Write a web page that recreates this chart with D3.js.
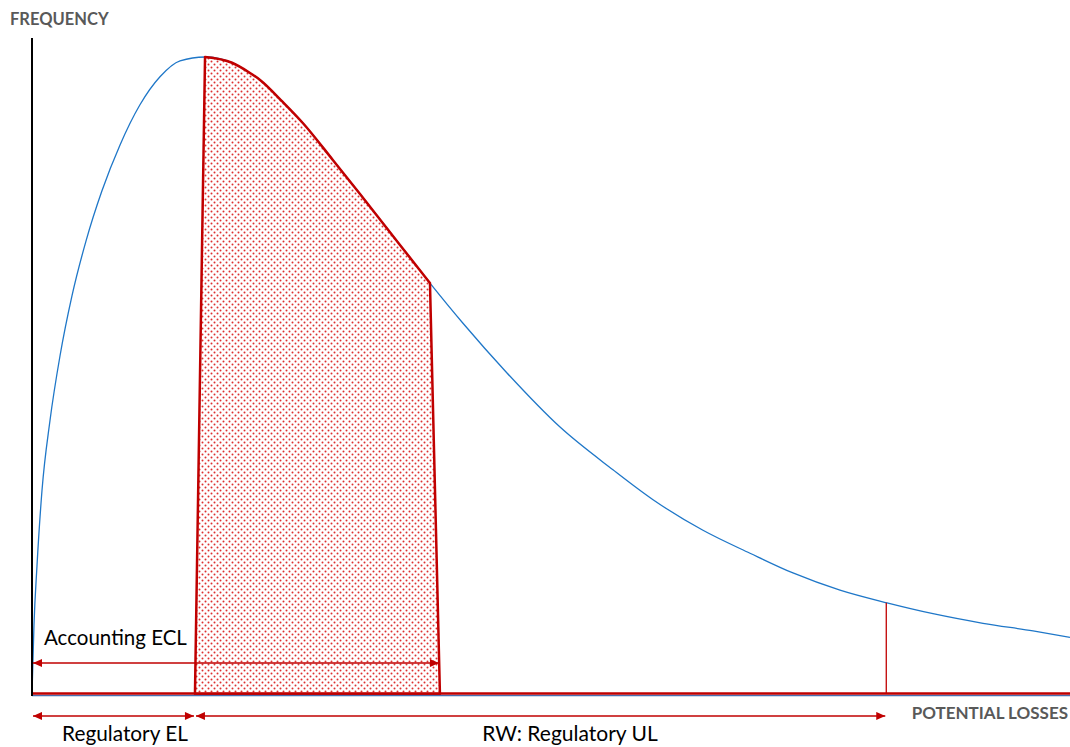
<!DOCTYPE html>
<html lang="en">
<head>
<meta charset="utf-8" />
<title></title>
<script src="https://cdn.jsdelivr.net/npm/d3@7/dist/d3.min.js"></script>
<style>
  body { margin: 0; background: #fff; }
  svg { display: block; }
</style>
</head>
<body>
<script>
// loss distribution (arbitrary units: loss 0-100, frequency 0-100)
var loss = [0, 0.19, 0.48, 0.96, 1.73, 2.70, 3.85, 5.20, 6.74, 8.48, 10.40, 12.33, 14.26, 16.67,
            19.27, 21.0, 21.97, 24.18, 26.11, 29.0, 31.6, 35.45, 38.34,
            41.52, 45.76, 50.87, 55.97, 59.83, 64.64, 69.17, 73.31, 77.84, 82.37, 86.8, 91.62, 96.44, 100];
var freq = [0, 10.8, 20.1, 31.9, 42.9, 53.1, 62.5, 71.1, 79.0, 86.2, 92.5, 96.9, 99.4, 100,
            99.1, 97.5, 96.4, 92.9, 89.6, 83.8, 78.5, 70.5, 64.5,
            58.2, 50.4, 41.9, 35.2, 30.5, 25.7, 22.1, 19.0, 16.3, 14.3, 12.6, 11.1, 9.9, 8.9];

var elLoss = 15.7;      // regulatory EL (bottom of shaded band)
var shadeStart = 16.67; // where shading meets the curve
var shadeEnd = 38.34;
var eclLoss = 39.3;     // accounting ECL
var ulLoss = 82.3;      // regulatory UL cut-off
var eclArrowFreq = 4.87;

var W = 1070, H = 747;
var x = d3.scaleLinear().domain([0, 100]).range([32, 1070]);
var y = d3.scaleLinear().domain([0, 100]).range([694, 57]);

var red = "#c00000", blue = "#1f77c8", grey = "#595959";
var font = "Lato";

var svg = d3.select("body").append("svg").attr("width", W).attr("height", H);
var defs = svg.append("defs");

var pat = defs.append("pattern").attr("id", "dots")
    .attr("patternUnits", "userSpaceOnUse").attr("width", 6).attr("height", 6);
pat.append("rect").attr("width", 6).attr("height", 6).attr("fill", "#fff");
pat.append("circle").attr("cx", 1.5).attr("cy", 1.5).attr("r", 1).attr("fill", "#dd3030");
pat.append("circle").attr("cx", 4.5).attr("cy", 4.5).attr("r", 1).attr("fill", "#dd3030");

function marker(id, dir) {
  var m = defs.append("marker").attr("id", id)
      .attr("viewBox", "0 -5 10 10").attr("refX", dir > 0 ? 10 : 0).attr("refY", 0)
      .attr("markerUnits", "userSpaceOnUse").attr("markerWidth", 10).attr("markerHeight", 9)
      .attr("orient", "auto");
  m.append("path").attr("d", dir > 0 ? "M0,-4.5L10,0L0,4.5Z" : "M10,-4.5L0,0L10,4.5Z").attr("fill", red);
}
marker("arrEnd", 1);
marker("arrStart", -1);

var pts = loss.map(function (d, i) { return [d, freq[i]]; });
var curve = d3.line().x(function (d) { return x(d[0]); }).y(function (d) { return y(d[1]); })
    .curve(d3.curveMonotoneX);

// distribution curve
svg.append("path")
    .attr("d", curve(pts))
    .attr("fill", "none").attr("stroke", blue).attr("stroke-width", 1.3);

// shaded band between EL and ECL
var crest = pts.filter(function (p) { return p[0] >= shadeStart && p[0] <= shadeEnd; });
var bandPath = "M" + x(elLoss) + "," + y(0) + "L" + curve(crest).slice(1) + "L" + x(eclLoss) + "," + y(0) + "Z";
svg.append("path")
    .attr("d", bandPath)
    .attr("fill", "url(#dots)")
    .attr("stroke", red).attr("stroke-width", 2.5).attr("stroke-linejoin", "round");

// UL marker
var ulFreq = d3.scaleLinear().domain(loss).range(freq)(ulLoss);
svg.append("line")
    .attr("x1", x(ulLoss)).attr("x2", x(ulLoss)).attr("y1", y(ulFreq)).attr("y2", y(0))
    .attr("stroke", red).attr("stroke-width", 1.3);

// axes
svg.append("line").attr("x1", x(0)).attr("x2", x(100)).attr("y1", y(0) + 1.5).attr("y2", y(0) + 1.5)
    .attr("stroke", "#4a6fb0").attr("stroke-width", 1.5);
svg.append("line").attr("x1", x(0)).attr("x2", x(100)).attr("y1", y(0) - 0.5).attr("y2", y(0) - 0.5)
    .attr("stroke", red).attr("stroke-width", 2.4);
svg.append("line").attr("x1", x(0)).attr("x2", x(0)).attr("y1", 38).attr("y2", y(0) + 2)
    .attr("stroke", "#000").attr("stroke-width", 2);

// arrows
function arrow(a, b, yy) {
  svg.append("line").attr("x1", x(a) + 1).attr("x2", x(b) - 1).attr("y1", yy).attr("y2", yy)
      .attr("stroke", red).attr("stroke-width", 1.5)
      .attr("marker-start", "url(#arrStart)").attr("marker-end", "url(#arrEnd)");
}
arrow(0, eclLoss, y(eclArrowFreq));
arrow(0, elLoss, y(0) + 22);
arrow(elLoss, ulLoss, y(0) + 22);

// labels
svg.append("text").attr("x", 10).attr("y", 25).text("FREQUENCY")
    .attr("font-family", font).attr("font-weight", "bold").attr("font-size", 16.5).attr("fill", grey);
svg.append("text").attr("x", 1068).attr("y", 719).attr("text-anchor", "end").text("POTENTIAL LOSSES")
    .attr("font-family", font).attr("font-weight", "bold").attr("font-size", 17).attr("fill", grey);
svg.append("text").attr("x", 44).attr("y", 645).text("Accounting ECL")
    .attr("font-family", font).attr("font-size", 20.5).attr("fill", "#000");
svg.append("text").attr("x", 125).attr("y", 741).attr("text-anchor", "middle")
    .text("Regulatory EL").attr("font-family", font).attr("font-size", 20.8).attr("fill", "#000");
svg.append("text").attr("x", 570).attr("y", 741).attr("text-anchor", "middle")
    .text("RW: Regulatory UL").attr("font-family", font).attr("font-size", 21).attr("fill", "#000");
</script>
</body>
</html>
